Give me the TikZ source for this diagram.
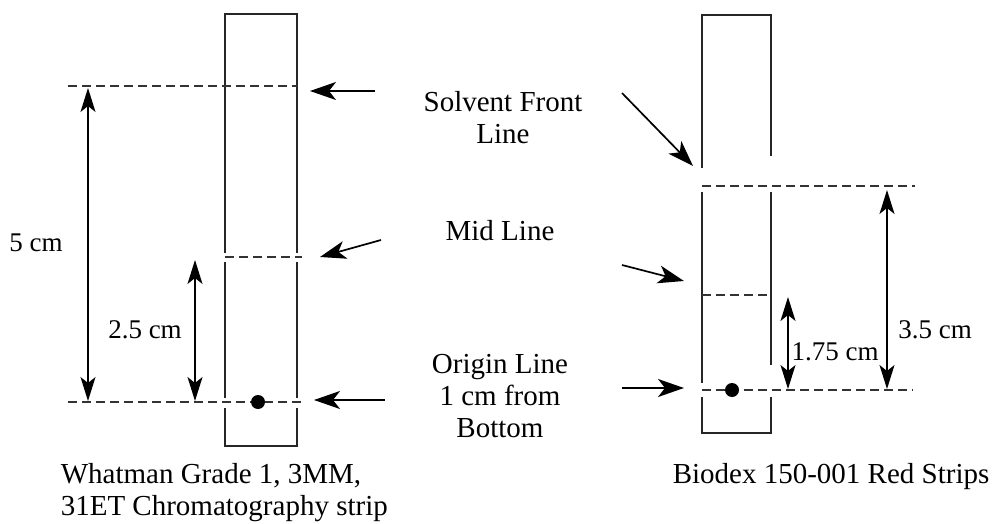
\documentclass[tikz,border=0pt]{standalone}
\usepackage{fontspec}
\setmainfont{Liberation Serif}
\usetikzlibrary{positioning,arrows.meta}

\begin{document}
\begin{tikzpicture}
        [x=1pt,y=-1pt,line width=1.6pt,
        edge/.style={draw=black!85},
        dline/.style={draw=black!80,dash pattern=on 9pt off 5pt},
        arr/.style={-{Stealth[length=26pt,width=18pt,inset=7pt]},line width=1.7pt},
        dim/.style={{Stealth[length=24pt,width=15pt,inset=6pt]}-{Stealth[length=24pt,width=15pt,inset=6pt]},line width=1.3pt},
        lbl/.style={font=\fontsize{29}{32}\selectfont,align=center,inner sep=0pt},
        dimlbl/.style={font=\fontsize{27}{30}\selectfont,inner sep=0pt}]
        \useasboundingbox (0,0) rectangle (993,524);
        % left strip
        \draw[edge] (225,253) -- (225,14) -- (297,14) -- (297,253);
        \draw[edge] (225,262) -- (225,398) (297,262) -- (297,398);
        \draw[edge] (225,408) -- (225,446) -- (297,446) -- (297,408);
        \draw[dline] (68,86) -- (297,86);
        \draw[dline] (225,257) -- (302,257);
        \draw[dline] (68,402) -- (302,402);
        \fill (258,402) circle (7);
        % right strip
        \draw[edge] (702,168) -- (702,15) -- (771,15) -- (771,156);
        \draw[edge] (702,192) -- (702,383) (771,192) -- (771,365);
        \draw[edge] (702,397) -- (702,433) -- (771,433) -- (771,397);
        \draw[dline] (702,186) -- (915,186);
        \draw[dline] (702,295) -- (771,295);
        \draw[dline] (702,390) -- (913,390);
        \fill (732,390) circle (7);
        % labels
        \node[lbl] (sf) at (503,118) {Solvent Front\\Line};
        \node[lbl] (mid) at (500,231) {Mid Line};
        \node[lbl] (org) at (500,396) {Origin Line\\1 cm from\\Bottom};
        \node[lbl,align=left,anchor=north west] (capl) at (60,463) {Whatman Grade 1, 3MM,\\31ET Chromatography strip};
        \node[lbl,anchor=north west] (capr) at (672,463) {Biodex 150-001 Red Strips};
        % arrow ends
        \coordinate (sfl) at (375,91);  \coordinate (sflt) at (310,91);
        \coordinate (midl) at (381,240); \coordinate (midlt) at (320,257);
        \coordinate (orgl) at (385,400); \coordinate (orglt) at (314,400);
        \coordinate (sfr) at (622,93);  \coordinate (sfrt) at (693,166);
        \coordinate (midr) at (622,265); \coordinate (midrt) at (684,281);
        \coordinate (orgr) at (622,388); \coordinate (orgrt) at (684,388);
        \draw[arr] (sfl) -- (sflt);
        \draw[arr] (midl) -- (midlt);
        \draw[arr] (orgl) -- (orglt);
        \draw[arr] (sfr) -- (sfrt);
        \draw[arr] (midr) -- (midrt);
        \draw[arr] (orgr) -- (orgrt);
        % dimensions
        \coordinate (a5t) at (88,88);   \coordinate (a5b) at (88,401);
        \coordinate (a25t) at (195,260); \coordinate (a25b) at (195,401);
        \coordinate (a35t) at (887,190); \coordinate (a35b) at (887,389);
        \coordinate (a175t) at (788,297); \coordinate (a175b) at (788,389);
        \draw[dim] (a5t) -- (a5b);
        \draw[dim] (a25t) -- (a25b);
        \draw[dim] (a35t) -- (a35b);
        \draw[dim] (a175t) -- (a175b);
        \node[dimlbl] (d5) at (36,243) {5 cm};
        \node[dimlbl] (d25) at (145,330) {2.5 cm};
        \node[dimlbl] (d35) at (935,330) {3.5 cm};
        \node[dimlbl] (d175) at (835,352) {1.75 cm};
\end{tikzpicture}
\end{document}
